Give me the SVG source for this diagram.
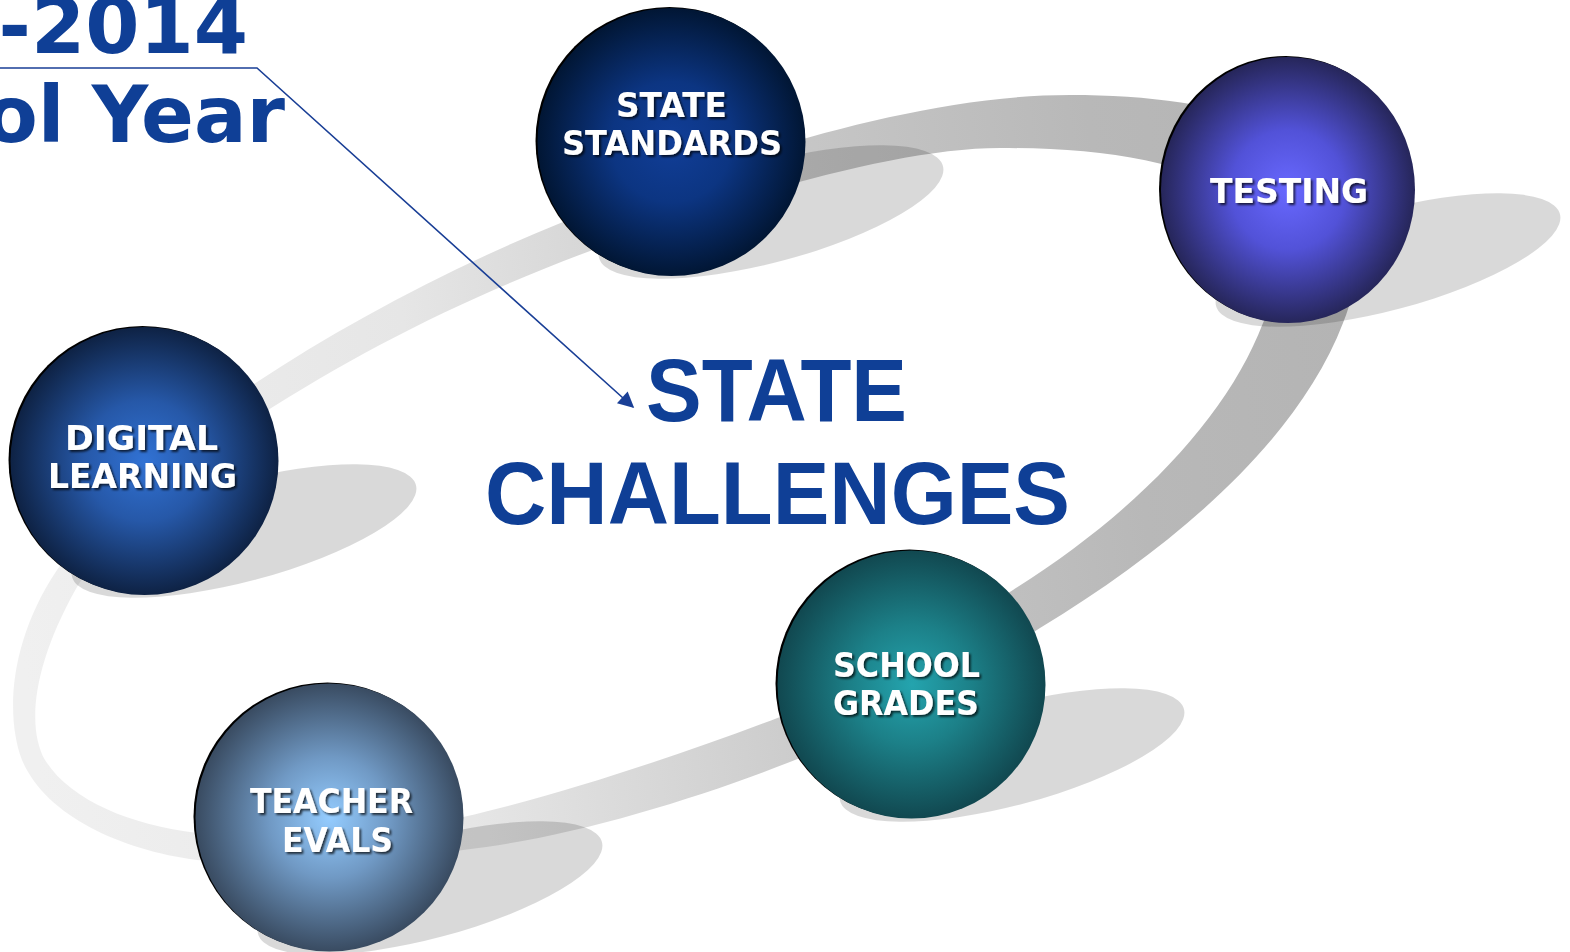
<svg xmlns="http://www.w3.org/2000/svg" width="1570" height="952" viewBox="0 0 1570 952">
<defs>
<style>
.lbl{font-family:"DejaVu Sans",Verdana,sans-serif;font-weight:bold;font-size:33px;fill:#ffffff;text-anchor:middle;filter:url(#ts)}
.title{font-family:"DejaVu Sans",Verdana,sans-serif;font-weight:bold;font-size:78px;fill:#0f3f96;text-anchor:end}
.big{font-family:"Liberation Sans",Arial,sans-serif;font-weight:bold;font-size:89px;fill:#0f3f96}
.shadow{fill:#000000;fill-opacity:0.15}
.rim{fill:#000000}
</style>
<filter id="ts" x="-10%" y="-30%" width="120%" height="160%">
<feDropShadow dx="2" dy="2" stdDeviation="1.2" flood-color="#000000" flood-opacity="0.7"/>
</filter>
<linearGradient id="ribbon" gradientUnits="userSpaceOnUse" x1="0" y1="500" x2="1400" y2="300">
<stop offset="0" stop-color="#f0f0f0"/>
<stop offset="0.3" stop-color="#e6e6e6"/>
<stop offset="0.55" stop-color="#cacaca"/>
<stop offset="0.8" stop-color="#b8b8b8"/>
<stop offset="1" stop-color="#b3b3b3"/>
</linearGradient>
<radialGradient id="gSS" cx="0.5" cy="0.5" r="0.5">
<stop offset="0" stop-color="#113e98"/>
<stop offset="0.45" stop-color="#0c3582"/>
<stop offset="1" stop-color="#011634"/>
</radialGradient>
<radialGradient id="gT" cx="0.5" cy="0.5" r="0.5">
<stop offset="0" stop-color="#6868ff"/>
<stop offset="0.45" stop-color="#5252d8"/>
<stop offset="1" stop-color="#26265a"/>
</radialGradient>
<radialGradient id="gDL" cx="0.5" cy="0.5" r="0.5">
<stop offset="0" stop-color="#3172d4"/>
<stop offset="0.45" stop-color="#2658a8"/>
<stop offset="1" stop-color="#0e2244"/>
</radialGradient>
<radialGradient id="gTE" cx="0.5" cy="0.5" r="0.5">
<stop offset="0" stop-color="#94ccff"/>
<stop offset="0.45" stop-color="#7099c4"/>
<stop offset="1" stop-color="#394b61"/>
</radialGradient>
<radialGradient id="gSG" cx="0.5" cy="0.5" r="0.5">
<stop offset="0" stop-color="#24a4ae"/>
<stop offset="0.45" stop-color="#1c8088"/>
<stop offset="1" stop-color="#114850"/>
</radialGradient>
<marker id="ah" viewBox="0 0 10 10" refX="9" refY="5" markerWidth="18" markerHeight="16" markerUnits="userSpaceOnUse" orient="auto">
<path d="M0,0 L10,5 L0,10 Z" fill="#1a3f96"/>
</marker>
</defs>
<rect width="1570" height="952" fill="#ffffff"/>
<g id="ring">
<path fill="url(#ribbon)" fill-rule="evenodd" d="M230 400 C340 325 470 255 620 200 C740 155 920 95 1070 95 C1170 95 1260 110 1310 150 C1365 195 1365 270 1343 323 C1300 435 1185 540 1040 628 C960 680 880 725 800 758 C700 798 570 838 463 850 C380 862 270 868 197 860 C120 850 45 815 22 760 C5 715 10 640 57 570 C110 490 170 440 230 400 Z M260 415 C370 345 480 290 620 240 C740 195 900 148 1000 148 C1100 148 1190 160 1240 200 C1280 235 1285 280 1263 323 C1228 415 1140 510 1013 590 C940 637 860 685 780 717 C680 755 560 795 463 817 C380 833 270 842 197 833 C130 825 70 800 45 760 C28 730 30 670 77 587 C130 500 200 450 260 415 Z"/>
</g>
<g id="shadows">
<ellipse class="shadow" cx="771" cy="212" rx="178" ry="50" transform="rotate(-15 771 212)"/>
<ellipse class="shadow" cx="1388" cy="260" rx="178" ry="50" transform="rotate(-15 1388 260)"/>
<ellipse class="shadow" cx="244" cy="531" rx="178" ry="50" transform="rotate(-15 244 531)"/>
<ellipse class="shadow" cx="1012" cy="755" rx="178" ry="50" transform="rotate(-15 1012 755)"/>
<ellipse class="shadow" cx="430" cy="888" rx="178" ry="50" transform="rotate(-15 430 888)"/>
</g>
<g id="node-state-standards">
<circle class="rim" cx="669.5" cy="141" r="134"/>
<circle cx="671.5" cy="142" r="134" fill="url(#gSS)"/>
<text class="lbl" x="671.5" y="117" textLength="111" lengthAdjust="spacingAndGlyphs">STATE</text>
<text class="lbl" x="672" y="155" textLength="220" lengthAdjust="spacingAndGlyphs">STANDARDS</text>
</g>
<g id="node-testing">
<ellipse class="rim" cx="1286" cy="189" rx="127" ry="133"/>
<ellipse cx="1288" cy="190" rx="127" ry="133" fill="url(#gT)"/>
<text class="lbl" x="1289" y="203" textLength="158" lengthAdjust="spacingAndGlyphs">TESTING</text>
</g>
<g id="node-digital-learning">
<circle class="rim" cx="142.5" cy="460" r="134"/>
<circle cx="144.5" cy="461" r="134" fill="url(#gDL)"/>
<text class="lbl" x="141.5" y="450" textLength="153" lengthAdjust="spacingAndGlyphs">DIGITAL</text>
<text class="lbl" x="142.5" y="488" textLength="189" lengthAdjust="spacingAndGlyphs">LEARNING</text>
</g>
<g id="node-school-grades">
<circle class="rim" cx="909.5" cy="683.5" r="134"/>
<circle cx="911.5" cy="684.5" r="134" fill="url(#gSG)"/>
<text class="lbl" x="906.5" y="677" textLength="147" lengthAdjust="spacingAndGlyphs">SCHOOL</text>
<text class="lbl" x="906" y="715" textLength="146" lengthAdjust="spacingAndGlyphs">GRADES</text>
</g>
<g id="node-teacher-evals">
<circle class="rim" cx="327.5" cy="816.5" r="134"/>
<circle cx="329.5" cy="817.5" r="134" fill="url(#gTE)"/>
<text class="lbl" x="331.5" y="813" textLength="163" lengthAdjust="spacingAndGlyphs">TEACHER</text>
<text class="lbl" x="337.5" y="852" textLength="111" lengthAdjust="spacingAndGlyphs">EVALS</text>
</g>
<g id="title">
<text class="title" x="248" y="53">-2014</text>
<text class="title" x="285" y="142">ol Year</text>
</g>
<g id="center">
<text class="big" x="646" y="421" textLength="261" lengthAdjust="spacingAndGlyphs">STATE</text>
<text class="big" x="485" y="524" textLength="585" lengthAdjust="spacingAndGlyphs">CHALLENGES</text>
</g>
<g id="connectors">
<polyline points="0,68 257,68 633,407" fill="none" stroke="#1a3f96" stroke-width="1.6" marker-end="url(#ah)"/>
</g>
</svg>
